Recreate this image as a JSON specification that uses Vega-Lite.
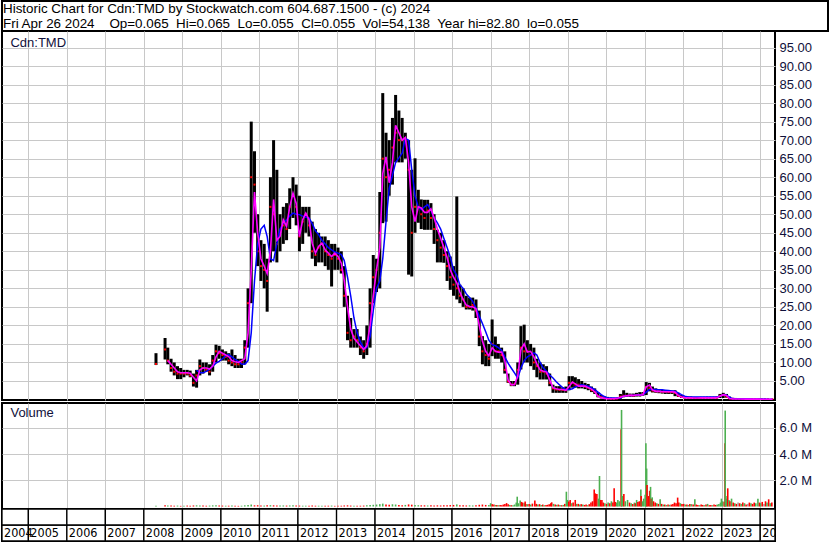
{
"$schema": "https://vega.github.io/schema/vega-lite/v6.json",
"padding": 0,
"autosize": {"type": "pad"},
"background": "white",
"config": {
  "font": "Liberation Sans",
  "view": {"stroke": "black", "strokeWidth": 2},
  "axis": {"labelFont": "Liberation Sans", "labelFontSize": 13, "labelColor": "#10103a", "gridColor": "#c8c8c8", "gridOpacity": 1, "gridWidth": 1, "ticks": false, "domain": false, "labelOverlap": false}
},
"datasets": {
  "hdr": [
    {"line": 1, "text": "Historic Chart for Cdn:TMD by Stockwatch.com 604.687.1500 - (c) 2024"},
    {"line": 2, "text": "Fri Apr 26 2024\u00a0 \u00a0 Op=0.065\u00a0 Hi=0.065\u00a0 Lo=0.055\u00a0 Cl=0.055\u00a0 Vol=54,138\u00a0 Year hi=82.80\u00a0 lo=0.055"}
  ],
  "px": [
    {"d":"2008-04-25","h":12.5,"l":9.3,"c":9.6},
    {"d":"2008-07-20","h":16.6,"l":10.8,"c":13.5},
    {"d":"2008-08-15","h":14,"l":9.5,"c":10.5,"m1":10.5},
    {"d":"2008-09-15","h":11,"l":7.5,"c":8.5,"m1":9.5},
    {"d":"2008-10-15","h":10,"l":6.5,"c":7.5,"m1":8.5},
    {"d":"2008-11-15","h":9,"l":5.5,"c":7,"m1":7.5},
    {"d":"2008-12-15","h":8.5,"l":5.5,"c":7,"m1":7.2},
    {"d":"2009-01-15","h":8,"l":6,"c":7,"m1":7.2},
    {"d":"2009-02-15","h":8,"l":6.5,"c":7,"m1":7.2},
    {"d":"2009-03-15","h":7.8,"l":6,"c":6.5,"m1":7.1},
    {"d":"2009-04-15","h":7,"l":3.5,"c":4.5,"m1":6},
    {"d":"2009-05-15","h":8,"l":3.2,"c":6.5,"m1":5,"m2":7.9},
    {"d":"2009-06-15","h":10.8,"l":6.5,"c":9,"m1":8,"m2":7.2},
    {"d":"2009-07-15","h":10,"l":7,"c":8.5,"m1":8.5,"m2":7.2},
    {"d":"2009-08-15","h":10,"l":7.5,"c":8,"m1":8.5,"m2":7.6},
    {"d":"2009-09-15","h":9.5,"l":6.5,"c":7.5,"m1":8.2,"m2":8.2},
    {"d":"2009-10-15","h":12,"l":7.5,"c":10.5,"m1":9,"m2":9},
    {"d":"2009-11-15","h":14.8,"l":10,"c":13,"m1":11.5,"m2":9.8},
    {"d":"2009-12-15","h":14.5,"l":11,"c":12.5,"m1":13,"m2":10.3},
    {"d":"2010-01-15","h":13.5,"l":10.5,"c":12,"m1":12.5,"m2":11},
    {"d":"2010-02-15","h":13,"l":10.5,"c":11.5,"m1":12,"m2":11.8},
    {"d":"2010-03-15","h":12.5,"l":9.5,"c":10.5,"m1":11.6,"m2":12.1},
    {"d":"2010-04-15","h":13.5,"l":9,"c":10,"m1":10.5,"m2":11.5},
    {"d":"2010-05-15","h":12,"l":8.5,"c":9.5,"m1":10.2,"m2":10.8},
    {"d":"2010-06-15","h":11,"l":8.5,"c":9.5,"m1":10,"m2":10.3},
    {"d":"2010-07-15","h":11,"l":8.5,"c":10,"m1":10.5,"m2":9.6},
    {"d":"2010-08-15","h":16,"l":9.5,"c":14,"m1":11,"m2":9.5},
    {"d":"2010-09-15","h":30,"l":14,"c":26,"m1":18,"m2":10.5},
    {"d":"2010-10-15","h":75,"l":26,"c":60,"m1":35,"m2":18},
    {"d":"2010-11-15","h":67,"l":45,"c":58,"m1":56,"m2":32},
    {"d":"2010-12-15","h":50,"l":36,"c":40,"m1":45,"m2":42},
    {"d":"2011-01-15","h":43,"l":32,"c":36,"m1":38,"m2":46},
    {"d":"2011-02-15","h":42,"l":30,"c":35,"m1":36,"m2":47},
    {"d":"2011-03-15","h":38,"l":23.7,"c":32,"m1":34,"m2":44},
    {"d":"2011-04-15","h":60,"l":37,"c":52,"m1":40,"m2":38},
    {"d":"2011-05-15","h":70,"l":40,"c":50,"m1":54,"m2":37.5},
    {"d":"2011-06-15","h":62,"l":37,"c":42,"m1":43,"m2":42},
    {"d":"2011-07-15","h":50,"l":40,"c":45,"m1":44,"m2":46},
    {"d":"2011-08-15","h":52,"l":42,"c":47,"m1":48.5,"m2":47.6},
    {"d":"2011-09-15","h":53,"l":43,"c":46,"m1":46.7,"m2":48.5},
    {"d":"2011-10-15","h":57,"l":46,"c":52,"m1":52,"m2":49.5},
    {"d":"2011-11-15","h":60,"l":49,"c":55,"m1":55.7,"m2":50.3},
    {"d":"2011-12-15","h":58,"l":47,"c":52,"m1":53,"m2":50},
    {"d":"2012-01-15","h":55,"l":40,"c":44,"m1":44,"m2":49.9},
    {"d":"2012-02-15","h":52,"l":42,"c":48,"m1":48.5,"m2":49.5},
    {"d":"2012-03-15","h":52,"l":45,"c":50,"m1":50.3,"m2":49.2},
    {"d":"2012-04-15","h":52,"l":44,"c":47,"m1":48.5,"m2":49},
    {"d":"2012-05-15","h":48,"l":38,"c":40,"m1":42.2,"m2":47.5},
    {"d":"2012-06-15","h":46,"l":36,"c":39,"m1":39.5,"m2":45.5},
    {"d":"2012-07-15","h":45,"l":37,"c":41,"m1":41.3,"m2":44.5},
    {"d":"2012-08-15","h":44,"l":37,"c":42,"m1":42.2,"m2":43},
    {"d":"2012-09-15","h":44,"l":36,"c":40,"m1":40.4,"m2":42},
    {"d":"2012-10-15","h":43,"l":35,"c":39,"m1":39.5,"m2":41},
    {"d":"2012-11-15","h":42,"l":30.5,"c":38,"m1":38.6,"m2":40.4},
    {"d":"2012-12-15","h":42,"l":35,"c":39,"m1":39.5,"m2":39.8},
    {"d":"2013-01-15","h":41,"l":35,"c":38,"m1":38.6,"m2":39.5},
    {"d":"2013-02-15","h":40,"l":34,"c":35,"m1":36.8,"m2":39.1},
    {"d":"2013-03-15","h":36,"l":25,"c":28,"m1":32,"m2":37.5},
    {"d":"2013-04-15","h":28,"l":16,"c":18,"m1":25,"m2":33},
    {"d":"2013-05-15","h":22,"l":14,"c":16,"m1":19,"m2":28},
    {"d":"2013-06-15","h":19,"l":14,"c":17,"m1":16.5,"m2":22},
    {"d":"2013-07-15","h":19,"l":14,"c":16,"m1":15.5,"m2":18},
    {"d":"2013-08-15","h":17,"l":12,"c":14,"m1":14.5,"m2":15.5},
    {"d":"2013-09-15","h":16,"l":11,"c":13,"m1":13.5,"m2":14},
    {"d":"2013-10-15","h":20,"l":12,"c":15,"m1":14.5,"m2":14},
    {"d":"2013-11-15","h":30,"l":14,"c":26,"m1":20,"m2":17},
    {"d":"2013-12-15","h":39,"l":26,"c":33,"m1":28,"m2":24},
    {"d":"2014-01-15","h":38,"l":29,"c":35,"m1":35,"m2":30},
    {"d":"2014-02-15","h":56,"l":30,"c":45,"m1":41,"m2":32},
    {"d":"2014-03-15","h":82.7,"l":47.6,"c":65,"m1":61,"m2":38},
    {"d":"2014-04-15","h":72,"l":48,"c":60,"m1":65.5,"m2":48},
    {"d":"2014-05-15","h":70,"l":55,"c":62,"m1":58.5,"m2":57},
    {"d":"2014-06-15","h":76,"l":58,"c":68,"m1":64,"m2":60.5},
    {"d":"2014-07-15","h":82.2,"l":64,"c":72,"m1":74,"m2":64},
    {"d":"2014-08-15","h":78,"l":64,"c":70,"m1":72,"m2":65.2},
    {"d":"2014-09-15","h":76,"l":64,"c":70,"m1":70,"m2":66.5},
    {"d":"2014-10-15","h":72,"l":65,"c":70,"m1":70.7,"m2":70.5},
    {"d":"2014-11-15","h":70,"l":33.7,"c":62,"m1":64,"m2":70},
    {"d":"2014-12-15","h":62,"l":33.2,"c":45,"m1":52,"m2":62},
    {"d":"2015-01-15","h":65.1,"l":45,"c":52,"m1":48,"m2":55},
    {"d":"2015-02-15","h":56.6,"l":47.7,"c":52,"m1":52,"m2":52},
    {"d":"2015-03-15","h":54,"l":46,"c":50,"m1":51.7,"m2":51.2},
    {"d":"2015-04-15","h":53.9,"l":45.8,"c":49,"m1":50.5,"m2":52},
    {"d":"2015-05-15","h":53.9,"l":45.8,"c":51,"m1":50.5,"m2":52.6},
    {"d":"2015-06-15","h":53,"l":45.8,"c":49,"m1":51.5,"m2":51},
    {"d":"2015-07-15","h":50,"l":42,"c":46,"m1":49,"m2":49},
    {"d":"2015-08-15","h":45.8,"l":37,"c":43,"m1":46,"m2":47.7},
    {"d":"2015-09-15","h":45,"l":37,"c":41,"m1":43.5,"m2":46},
    {"d":"2015-10-15","h":43,"l":36.9,"c":39,"m1":41,"m2":43.5},
    {"d":"2015-11-15","h":40,"l":32,"c":36,"m1":38.3,"m2":41},
    {"d":"2015-12-15","h":38.6,"l":29.6,"c":33,"m1":35,"m2":38.5},
    {"d":"2016-01-15","h":36,"l":28,"c":31,"m1":33,"m2":35},
    {"d":"2016-02-15","h":54.8,"l":27,"c":30,"m1":31.5,"m2":33.5},
    {"d":"2016-03-15","h":31,"l":26,"c":28,"m1":29,"m2":31},
    {"d":"2016-04-15","h":30,"l":25,"c":27,"m1":27,"m2":30},
    {"d":"2016-05-15","h":28,"l":24.3,"c":25,"m1":25.5,"m2":28.5},
    {"d":"2016-06-15","h":27.5,"l":24.3,"c":25,"m1":25.1,"m2":27.5},
    {"d":"2016-07-15","h":27.5,"l":24,"c":25.5,"m1":25,"m2":26.5},
    {"d":"2016-08-15","h":27,"l":22,"c":24,"m1":24.5,"m2":24.7},
    {"d":"2016-09-15","h":24,"l":14.4,"c":17,"m1":20,"m2":22.5},
    {"d":"2016-10-15","h":17.1,"l":9.5,"c":13,"m1":15.8,"m2":20.5},
    {"d":"2016-11-15","h":16,"l":9,"c":12,"m1":13,"m2":18.3},
    {"d":"2016-12-15","h":15,"l":9,"c":11,"m1":11.8,"m2":16},
    {"d":"2017-01-15","h":21.6,"l":11.7,"c":15,"m1":14,"m2":14.8},
    {"d":"2017-02-15","h":17,"l":11,"c":13,"m1":13,"m2":14.5},
    {"d":"2017-03-15","h":15,"l":11,"c":13,"m1":12.8,"m2":14},
    {"d":"2017-04-15","h":14,"l":10,"c":12,"m1":12.8,"m2":13.3},
    {"d":"2017-05-15","h":13,"l":7,"c":8,"m1":10.5,"m2":11.5},
    {"d":"2017-06-15","h":7,"l":4.5,"c":4.9,"m1":5.3,"m2":9.8},
    {"d":"2017-07-15","h":5,"l":3.6,"c":4,"m1":4,"m2":8.5},
    {"d":"2017-08-15","h":5,"l":3.6,"c":4.2,"m1":4,"m2":7.2},
    {"d":"2017-09-15","h":10,"l":4,"c":8,"m1":6.3,"m2":5.8},
    {"d":"2017-10-15","h":19.8,"l":8.1,"c":14,"m1":13.5,"m2":8.5},
    {"d":"2017-11-15","h":20.2,"l":10,"c":13,"m1":15,"m2":10.5},
    {"d":"2017-12-15","h":16,"l":10,"c":13,"m1":12.8,"m2":11.5},
    {"d":"2018-01-15","h":15,"l":9,"c":12,"m1":13,"m2":12},
    {"d":"2018-02-15","h":14,"l":8,"c":10,"m1":11.5,"m2":12.6},
    {"d":"2018-03-15","h":11,"l":6,"c":9,"m1":9.6,"m2":12},
    {"d":"2018-04-15","h":10,"l":5.4,"c":7.5,"m1":8,"m2":10},
    {"d":"2018-05-15","h":9.5,"l":5.4,"c":7.5,"m1":7.6,"m2":8.5},
    {"d":"2018-06-15","h":9,"l":5.4,"c":7,"m1":7.4,"m2":7.6},
    {"d":"2018-07-15","h":7,"l":3.6,"c":4.5,"m1":5.3,"m2":6.6},
    {"d":"2018-08-15","h":4,"l":1.8,"c":3,"m1":3.2,"m2":5.8},
    {"d":"2018-09-15","h":3.6,"l":1.8,"c":2.7,"m1":2.9,"m2":4.8},
    {"d":"2018-10-15","h":3.6,"l":1.8,"c":2.6,"m1":2.7,"m2":4},
    {"d":"2018-11-15","h":3.3,"l":1.8,"c":2.6,"m1":2.7,"m2":3.2},
    {"d":"2018-12-15","h":3.5,"l":1.8,"c":2.5,"m1":2.5,"m2":2.7},
    {"d":"2019-01-15","h":6.3,"l":2.5,"c":4.5,"m1":3.5,"m2":2.7},
    {"d":"2019-02-15","h":6.3,"l":3.2,"c":4.5,"m1":4.7,"m2":2.9},
    {"d":"2019-03-15","h":6,"l":3.2,"c":4,"m1":4.2,"m2":3.4},
    {"d":"2019-04-15","h":5.5,"l":3,"c":4,"m1":3.6,"m2":3.8},
    {"d":"2019-05-15","h":5,"l":3,"c":3.7,"m1":3.6,"m2":4},
    {"d":"2019-06-15","h":4.5,"l":2.8,"c":3.5,"m1":3.6,"m2":3.8},
    {"d":"2019-07-15","h":4.2,"l":2.5,"c":3.2,"m1":3.2,"m2":3.6},
    {"d":"2019-08-15","h":3.5,"l":2,"c":2.5,"m1":2.8,"m2":3.2},
    {"d":"2019-09-15","h":3,"l":1.5,"c":2,"m1":2.1,"m2":2.7},
    {"d":"2019-10-15","h":2,"l":0.6,"c":0.9,"m1":0.9,"m2":2},
    {"d":"2019-11-15","h":1.2,"l":0.3,"c":0.6,"m1":0.5,"m2":1.3},
    {"d":"2019-12-15","h":0.8,"l":0.2,"c":0.4,"m1":0.3,"m2":0.8},
    {"d":"2020-01-15","h":0.7,"l":0.15,"c":0.3,"m1":0.2,"m2":0.4},
    {"d":"2020-02-15","h":0.5,"l":0.1,"c":0.2,"m1":0.2,"m2":0.4},
    {"d":"2020-03-15","h":0.4,"l":0.1,"c":0.2,"m1":0.2,"m2":0.4},
    {"d":"2020-04-15","h":0.5,"l":0.1,"c":0.3,"m1":0.3,"m2":0.4},
    {"d":"2020-05-15","h":1.5,"l":0.2,"c":0.8,"m1":0.6,"m2":0.4},
    {"d":"2020-06-15","h":2.5,"l":0.6,"c":1,"m1":0.9,"m2":0.9},
    {"d":"2020-07-15","h":1.8,"l":0.7,"c":1,"m1":1,"m2":1},
    {"d":"2020-08-15","h":1.6,"l":0.7,"c":1.1,"m1":1.1,"m2":1.1},
    {"d":"2020-09-15","h":1.6,"l":0.7,"c":1,"m1":1.1,"m2":1.1},
    {"d":"2020-10-15","h":1.8,"l":0.8,"c":1.2,"m1":1.2,"m2":1.2},
    {"d":"2020-11-15","h":2,"l":0.8,"c":1.2,"m1":1.2,"m2":1.3},
    {"d":"2020-12-15","h":2,"l":1,"c":1.4,"m1":1.3,"m2":1.3},
    {"d":"2021-01-15","h":4.7,"l":1.2,"c":3.4,"m1":3.4,"m2":2},
    {"d":"2021-02-15","h":4.5,"l":2.2,"c":3,"m1":3.9,"m2":2.7},
    {"d":"2021-03-15","h":3.5,"l":1.9,"c":2.4,"m1":2.6,"m2":2.7},
    {"d":"2021-04-15","h":3,"l":1.8,"c":2.2,"m1":2.2,"m2":2.7},
    {"d":"2021-05-15","h":2.8,"l":1.7,"c":2.2,"m1":2.2,"m2":2.6},
    {"d":"2021-06-15","h":2.6,"l":1.6,"c":2.1,"m1":2.1,"m2":2.6},
    {"d":"2021-07-15","h":2.5,"l":1.5,"c":2.1,"m1":2.1,"m2":2.5},
    {"d":"2021-08-15","h":2.5,"l":1.5,"c":2,"m1":2.1,"m2":2.4},
    {"d":"2021-09-15","h":2.4,"l":1.5,"c":2,"m1":2.1,"m2":2.3},
    {"d":"2021-10-15","h":2.5,"l":0.9,"c":1.8,"m1":2,"m2":2.2},
    {"d":"2021-11-15","h":1.8,"l":0.7,"c":1,"m1":1.1,"m2":1.8},
    {"d":"2021-12-15","h":1.2,"l":0.4,"c":0.7,"m1":0.7,"m2":1.3},
    {"d":"2022-01-15","h":0.9,"l":0.3,"c":0.5,"m1":0.5,"m2":0.9},
    {"d":"2022-02-15","h":0.8,"l":0.3,"c":0.5,"m1":0.45,"m2":0.7},
    {"d":"2022-03-15","h":0.8,"l":0.3,"c":0.45,"m1":0.45,"m2":0.7},
    {"d":"2022-04-15","h":0.7,"l":0.25,"c":0.4,"m1":0.4,"m2":0.7},
    {"d":"2022-05-15","h":0.7,"l":0.25,"c":0.4,"m1":0.4,"m2":0.7},
    {"d":"2022-06-15","h":0.7,"l":0.25,"c":0.45,"m1":0.45,"m2":0.7},
    {"d":"2022-07-15","h":0.7,"l":0.3,"c":0.45,"m1":0.45,"m2":0.7},
    {"d":"2022-08-15","h":0.7,"l":0.3,"c":0.5,"m1":0.45,"m2":0.7},
    {"d":"2022-09-15","h":0.7,"l":0.3,"c":0.5,"m1":0.45,"m2":0.7},
    {"d":"2022-10-15","h":0.7,"l":0.3,"c":0.5,"m1":0.45,"m2":0.7},
    {"d":"2022-11-15","h":0.8,"l":0.3,"c":0.5,"m1":0.5,"m2":0.7},
    {"d":"2022-12-15","h":1.5,"l":0.4,"c":1,"m1":0.9,"m2":0.9},
    {"d":"2023-01-15","h":1.8,"l":0.4,"c":1.2,"m1":1.3,"m2":1.3},
    {"d":"2023-02-15","h":1.5,"l":0.5,"c":0.8,"m1":1.1,"m2":1.2},
    {"d":"2023-03-15","h":0.8,"l":0.15,"c":0.3,"m1":0.25,"m2":0.6},
    {"d":"2023-04-15","h":0.4,"l":0.1,"c":0.2,"m1":0.15,"m2":0.25},
    {"d":"2023-05-15","h":0.3,"l":0.08,"c":0.15,"m1":0.12,"m2":0.2},
    {"d":"2023-06-15","h":0.3,"l":0.08,"c":0.14,"m1":0.12,"m2":0.2},
    {"d":"2023-07-15","h":0.25,"l":0.08,"c":0.13,"m1":0.12,"m2":0.2},
    {"d":"2023-08-15","h":0.25,"l":0.07,"c":0.12,"m1":0.11,"m2":0.18},
    {"d":"2023-09-15","h":0.22,"l":0.07,"c":0.11,"m1":0.1,"m2":0.17},
    {"d":"2023-10-15","h":0.2,"l":0.06,"c":0.1,"m1":0.1,"m2":0.15},
    {"d":"2023-11-15","h":0.2,"l":0.06,"c":0.1,"m1":0.09,"m2":0.14},
    {"d":"2023-12-15","h":0.2,"l":0.06,"c":0.09,"m1":0.09,"m2":0.13},
    {"d":"2024-01-15","h":0.15,"l":0.05,"c":0.08,"m1":0.08,"m2":0.12},
    {"d":"2024-02-15","h":0.15,"l":0.05,"c":0.08,"m1":0.08,"m2":0.11},
    {"d":"2024-03-15","h":0.12,"l":0.05,"c":0.07,"m1":0.07,"m2":0.1},
    {"d":"2024-04-26","h":0.065,"l":0.055,"c":0.055,"m1":0.07,"m2":0.09}
  ],
  "vol": [
    {"d":"2008-04-25","v":60000,"s":"up"},{"d":"2008-07-20","v":90000,"s":"dn"},{"d":"2008-08-15","v":70000,"s":"up"},{"d":"2008-09-15","v":80000,"s":"dn"},{"d":"2008-10-15","v":60000,"s":"dn"},{"d":"2008-11-15","v":70000,"s":"up"},{"d":"2008-12-15","v":50000,"s":"dn"},
    {"d":"2009-01-15","v":60000,"s":"up"},{"d":"2009-02-15","v":70000,"s":"dn"},{"d":"2009-03-15","v":60000,"s":"dn"},{"d":"2009-04-15","v":80000,"s":"dn"},{"d":"2009-05-15","v":90000,"s":"up"},{"d":"2009-06-15","v":80000,"s":"up"},{"d":"2009-07-15","v":70000,"s":"dn"},{"d":"2009-08-15","v":60000,"s":"dn"},{"d":"2009-09-15","v":70000,"s":"up"},{"d":"2009-10-15","v":90000,"s":"up"},{"d":"2009-11-15","v":100000,"s":"up"},{"d":"2009-12-15","v":80000,"s":"dn"},
    {"d":"2010-01-15","v":70000,"s":"dn"},{"d":"2010-02-15","v":60000,"s":"up"},{"d":"2010-03-15","v":60000,"s":"dn"},{"d":"2010-04-15","v":70000,"s":"up"},{"d":"2010-05-15","v":60000,"s":"dn"},{"d":"2010-06-15","v":50000,"s":"dn"},{"d":"2010-07-15","v":60000,"s":"up"},{"d":"2010-08-15","v":90000,"s":"up"},{"d":"2010-09-15","v":120000,"s":"up"},{"d":"2010-10-15","v":150000,"s":"up"},{"d":"2010-11-15","v":90000,"s":"dn"},{"d":"2010-12-15","v":100000,"s":"dn"},
    {"d":"2011-01-15","v":80000,"s":"dn"},{"d":"2011-02-15","v":70000,"s":"up"},{"d":"2011-03-15","v":90000,"s":"dn"},{"d":"2011-04-15","v":100000,"s":"up"},{"d":"2011-05-15","v":90000,"s":"dn"},{"d":"2011-06-15","v":80000,"s":"dn"},{"d":"2011-07-15","v":70000,"s":"up"},{"d":"2011-08-15","v":80000,"s":"up"},{"d":"2011-09-15","v":70000,"s":"dn"},{"d":"2011-10-15","v":80000,"s":"up"},{"d":"2011-11-15","v":90000,"s":"up"},{"d":"2011-12-15","v":70000,"s":"dn"},
    {"d":"2012-01-15","v":70000,"s":"dn"},{"d":"2012-02-15","v":60000,"s":"up"},{"d":"2012-03-15","v":60000,"s":"up"},{"d":"2012-04-15","v":60000,"s":"dn"},{"d":"2012-05-15","v":70000,"s":"dn"},{"d":"2012-06-15","v":60000,"s":"dn"},{"d":"2012-07-15","v":60000,"s":"up"},{"d":"2012-08-15","v":50000,"s":"up"},{"d":"2012-09-15","v":60000,"s":"dn"},{"d":"2012-10-15","v":60000,"s":"dn"},{"d":"2012-11-15","v":70000,"s":"up"},{"d":"2012-12-15","v":50000,"s":"dn"},
    {"d":"2013-01-15","v":60000,"s":"dn"},{"d":"2013-02-15","v":60000,"s":"dn"},{"d":"2013-03-15","v":80000,"s":"dn"},{"d":"2013-04-15","v":90000,"s":"dn"},{"d":"2013-05-15","v":70000,"s":"dn"},{"d":"2013-06-15","v":60000,"s":"up"},{"d":"2013-07-15","v":60000,"s":"dn"},{"d":"2013-08-15","v":60000,"s":"dn"},{"d":"2013-09-15","v":70000,"s":"dn"},{"d":"2013-10-15","v":90000,"s":"up"},{"d":"2013-11-15","v":120000,"s":"up"},{"d":"2013-12-15","v":130000,"s":"up"},
    {"d":"2014-01-15","v":150000,"s":"up"},{"d":"2014-02-15","v":180000,"s":"up"},{"d":"2014-03-15","v":220000,"s":"up"},{"d":"2014-04-15","v":160000,"s":"dn"},{"d":"2014-05-15","v":130000,"s":"dn"},{"d":"2014-06-15","v":170000,"s":"up"},{"d":"2014-07-15","v":150000,"s":"up"},{"d":"2014-08-15","v":110000,"s":"dn"},{"d":"2014-09-15","v":100000,"s":"dn"},{"d":"2014-10-15","v":120000,"s":"up"},{"d":"2014-11-15","v":160000,"s":"dn"},{"d":"2014-12-15","v":140000,"s":"dn"},
    {"d":"2015-01-15","v":120000,"s":"up"},{"d":"2015-02-15","v":100000,"s":"up"},{"d":"2015-03-15","v":90000,"s":"dn"},{"d":"2015-04-15","v":90000,"s":"dn"},{"d":"2015-05-15","v":80000,"s":"up"},{"d":"2015-06-15","v":90000,"s":"dn"},{"d":"2015-07-15","v":80000,"s":"dn"},{"d":"2015-08-15","v":90000,"s":"dn"},{"d":"2015-09-15","v":80000,"s":"dn"},{"d":"2015-10-15","v":90000,"s":"dn"},{"d":"2015-11-15","v":100000,"s":"dn"},{"d":"2015-12-15","v":110000,"s":"dn"},
    {"d":"2016-01-15","v":120000,"s":"dn"},{"d":"2016-02-15","v":160000,"s":"up"},{"d":"2016-03-15","v":100000,"s":"dn"},{"d":"2016-04-15","v":90000,"s":"dn"},{"d":"2016-05-15","v":80000,"s":"dn"},{"d":"2016-06-15","v":90000,"s":"up"},{"d":"2016-07-15","v":80000,"s":"up"},{"d":"2016-08-15","v":90000,"s":"dn"},{"d":"2016-09-15","v":130000,"s":"dn"},{"d":"2016-10-15","v":150000,"s":"dn"},{"d":"2016-11-15","v":120000,"s":"dn"},{"d":"2016-12-15","v":110000,"s":"up"},
    {"d":"2017-01-01","v":250000,"s":"up"},{"d":"2017-01-16","v":180000,"s":"dn"},{"d":"2017-02-01","v":150000,"s":"dn"},{"d":"2017-02-16","v":120000,"s":"up"},{"d":"2017-03-01","v":110000,"s":"dn"},{"d":"2017-03-16","v":100000,"s":"up"},{"d":"2017-04-01","v":120000,"s":"dn"},{"d":"2017-04-16","v":100000,"s":"dn"},{"d":"2017-05-01","v":150000,"s":"dn"},{"d":"2017-05-16","v":200000,"s":"dn"},{"d":"2017-06-01","v":260000,"s":"dn"},{"d":"2017-06-16","v":180000,"s":"dn"},{"d":"2017-07-01","v":120000,"s":"up"},{"d":"2017-07-16","v":100000,"s":"dn"},{"d":"2017-08-01","v":90000,"s":"up"},{"d":"2017-08-16","v":150000,"s":"up"},{"d":"2017-09-01","v":300000,"s":"up"},{"d":"2017-09-10","v":750000,"s":"up"},{"d":"2017-09-20","v":250000,"s":"up"},{"d":"2017-10-08","v":450000,"s":"up"},{"d":"2017-10-20","v":350000,"s":"dn"},{"d":"2017-11-01","v":300000,"s":"dn"},{"d":"2017-11-16","v":250000,"s":"up"},{"d":"2017-11-24","v":380000,"s":"dn"},{"d":"2017-12-01","v":200000,"s":"dn"},{"d":"2017-12-16","v":180000,"s":"up"},
    {"d":"2018-01-01","v":200000,"s":"dn"},{"d":"2018-01-16","v":150000,"s":"up"},{"d":"2018-02-01","v":220000,"s":"dn"},{"d":"2018-02-24","v":450000,"s":"dn"},{"d":"2018-03-10","v":200000,"s":"dn"},{"d":"2018-03-25","v":150000,"s":"up"},{"d":"2018-04-10","v":180000,"s":"dn"},{"d":"2018-04-25","v":120000,"s":"up"},{"d":"2018-05-10","v":150000,"s":"dn"},{"d":"2018-05-25","v":100000,"s":"up"},{"d":"2018-06-10","v":120000,"s":"dn"},{"d":"2018-06-25","v":130000,"s":"dn"},{"d":"2018-07-10","v":180000,"s":"dn"},{"d":"2018-07-25","v":250000,"s":"dn"},{"d":"2018-08-03","v":320000,"s":"dn"},{"d":"2018-08-20","v":200000,"s":"up"},{"d":"2018-09-05","v":150000,"s":"dn"},{"d":"2018-09-20","v":130000,"s":"up"},{"d":"2018-10-05","v":150000,"s":"dn"},{"d":"2018-10-20","v":120000,"s":"up"},{"d":"2018-11-05","v":100000,"s":"dn"},{"d":"2018-11-20","v":120000,"s":"up"},{"d":"2018-12-05","v":200000,"s":"dn"},{"d":"2018-12-20","v":1130000,"s":"up"},
    {"d":"2019-01-01","v":500000,"s":"up"},{"d":"2019-01-12","v":380000,"s":"dn"},{"d":"2019-01-25","v":500000,"s":"dn"},{"d":"2019-02-08","v":250000,"s":"up"},{"d":"2019-02-22","v":300000,"s":"dn"},{"d":"2019-03-14","v":500000,"s":"dn"},{"d":"2019-03-28","v":200000,"s":"up"},{"d":"2019-04-12","v":200000,"s":"dn"},{"d":"2019-04-26","v":150000,"s":"up"},{"d":"2019-05-10","v":180000,"s":"dn"},{"d":"2019-05-25","v":150000,"s":"up"},{"d":"2019-06-10","v":120000,"s":"dn"},{"d":"2019-06-25","v":150000,"s":"dn"},{"d":"2019-07-10","v":100000,"s":"up"},{"d":"2019-07-25","v":180000,"s":"dn"},{"d":"2019-08-10","v":300000,"s":"dn"},{"d":"2019-08-25","v":400000,"s":"dn"},{"d":"2019-09-10","v":1300000,"s":"dn"},{"d":"2019-09-20","v":1000000,"s":"dn"},{"d":"2019-10-05","v":950000,"s":"dn"},{"d":"2019-10-20","v":600000,"s":"up"},{"d":"2019-10-30","v":2330000,"s":"up"},{"d":"2019-11-10","v":500000,"s":"dn"},{"d":"2019-11-22","v":500000,"s":"dn"},{"d":"2019-12-05","v":300000,"s":"dn"},{"d":"2019-12-20","v":250000,"s":"up"},
    {"d":"2020-01-05","v":200000,"s":"dn"},{"d":"2020-01-20","v":300000,"s":"up"},{"d":"2020-02-05","v":250000,"s":"dn"},{"d":"2020-02-20","v":400000,"s":"up"},{"d":"2020-03-05","v":300000,"s":"dn"},{"d":"2020-03-17","v":1390000,"s":"dn"},{"d":"2020-03-28","v":350000,"s":"dn"},{"d":"2020-04-10","v":300000,"s":"up"},{"d":"2020-04-21","v":500000,"s":"up"},{"d":"2020-05-05","v":400000,"s":"up"},{"d":"2020-05-22","v":5900000,"s":"dn"},{"d":"2020-05-26","v":7380000,"s":"up"},{"d":"2020-06-05","v":800000,"s":"up"},{"d":"2020-06-17","v":950000,"s":"dn"},{"d":"2020-07-01","v":400000,"s":"up"},{"d":"2020-07-22","v":500000,"s":"up"},{"d":"2020-08-10","v":300000,"s":"dn"},{"d":"2020-08-25","v":250000,"s":"up"},{"d":"2020-09-10","v":200000,"s":"dn"},{"d":"2020-09-25","v":300000,"s":"up"},{"d":"2020-10-05","v":250000,"s":"dn"},{"d":"2020-10-16","v":500000,"s":"up"},{"d":"2020-10-28","v":350000,"s":"dn"},{"d":"2020-11-10","v":400000,"s":"dn"},{"d":"2020-11-25","v":1300000,"s":"up"},{"d":"2020-11-28","v":800000,"s":"dn"},{"d":"2020-12-10","v":400000,"s":"up"},{"d":"2020-12-22","v":600000,"s":"up"},
    {"d":"2021-01-05","v":900000,"s":"up"},{"d":"2021-01-12","v":4830000,"s":"up"},{"d":"2021-01-19","v":2900000,"s":"up"},{"d":"2021-01-23","v":1640000,"s":"dn"},{"d":"2021-02-05","v":800000,"s":"dn"},{"d":"2021-02-17","v":1200000,"s":"dn"},{"d":"2021-02-25","v":1500000,"s":"up"},{"d":"2021-03-05","v":600000,"s":"dn"},{"d":"2021-03-13","v":700000,"s":"up"},{"d":"2021-03-25","v":400000,"s":"dn"},{"d":"2021-04-10","v":300000,"s":"dn"},{"d":"2021-04-25","v":250000,"s":"up"},{"d":"2021-05-10","v":200000,"s":"dn"},{"d":"2021-05-27","v":550000,"s":"up"},{"d":"2021-06-10","v":200000,"s":"dn"},{"d":"2021-06-25","v":150000,"s":"up"},{"d":"2021-07-10","v":150000,"s":"dn"},{"d":"2021-07-25","v":120000,"s":"up"},{"d":"2021-08-10","v":150000,"s":"dn"},{"d":"2021-08-25","v":130000,"s":"up"},{"d":"2021-09-10","v":150000,"s":"dn"},{"d":"2021-09-25","v":200000,"s":"dn"},{"d":"2021-10-10","v":300000,"s":"dn"},{"d":"2021-10-25","v":250000,"s":"dn"},{"d":"2021-11-09","v":680000,"s":"dn"},{"d":"2021-11-20","v":300000,"s":"dn"},{"d":"2021-12-05","v":250000,"s":"up"},{"d":"2021-12-20","v":200000,"s":"dn"},
    {"d":"2022-01-05","v":200000,"s":"dn"},{"d":"2022-01-20","v":150000,"s":"up"},{"d":"2022-02-05","v":150000,"s":"dn"},{"d":"2022-02-20","v":120000,"s":"up"},{"d":"2022-03-05","v":200000,"s":"dn"},{"d":"2022-03-20","v":180000,"s":"up"},{"d":"2022-04-05","v":150000,"s":"dn"},{"d":"2022-04-21","v":550000,"s":"up"},{"d":"2022-05-05","v":150000,"s":"dn"},{"d":"2022-05-20","v":120000,"s":"dn"},{"d":"2022-06-05","v":100000,"s":"up"},{"d":"2022-06-20","v":150000,"s":"dn"},{"d":"2022-07-05","v":120000,"s":"dn"},{"d":"2022-07-20","v":100000,"s":"up"},{"d":"2022-08-05","v":150000,"s":"dn"},{"d":"2022-08-20","v":200000,"s":"up"},{"d":"2022-09-05","v":100000,"s":"dn"},{"d":"2022-09-20","v":120000,"s":"dn"},{"d":"2022-10-05","v":100000,"s":"up"},{"d":"2022-10-20","v":150000,"s":"dn"},{"d":"2022-11-05","v":120000,"s":"dn"},{"d":"2022-11-20","v":150000,"s":"up"},{"d":"2022-12-05","v":200000,"s":"up"},{"d":"2022-12-20","v":300000,"s":"up"},{"d":"2022-12-29","v":600000,"s":"up"},
    {"d":"2023-01-10","v":400000,"s":"up"},{"d":"2023-01-25","v":350000,"s":"dn"},{"d":"2023-02-01","v":4830000,"s":"dn"},{"d":"2023-02-03","v":7330000,"s":"up"},{"d":"2023-02-10","v":800000,"s":"up"},{"d":"2023-02-18","v":600000,"s":"up"},{"d":"2023-02-27","v":1390000,"s":"dn"},{"d":"2023-03-10","v":500000,"s":"up"},{"d":"2023-03-20","v":400000,"s":"dn"},{"d":"2023-04-04","v":600000,"s":"up"},{"d":"2023-04-20","v":300000,"s":"dn"},{"d":"2023-05-05","v":250000,"s":"up"},{"d":"2023-05-20","v":200000,"s":"dn"},{"d":"2023-06-05","v":300000,"s":"eq"},{"d":"2023-06-20","v":250000,"s":"dn"},{"d":"2023-07-05","v":200000,"s":"up"},{"d":"2023-07-20","v":300000,"s":"dn"},{"d":"2023-08-05","v":250000,"s":"up"},{"d":"2023-08-20","v":150000,"s":"dn"},{"d":"2023-09-05","v":200000,"s":"eq"},{"d":"2023-09-20","v":300000,"s":"dn"},{"d":"2023-10-05","v":250000,"s":"up"},{"d":"2023-10-20","v":200000,"s":"dn"},{"d":"2023-11-05","v":300000,"s":"dn"},{"d":"2023-11-20","v":250000,"s":"up"},{"d":"2023-12-10","v":600000,"s":"up"},{"d":"2023-12-25","v":300000,"s":"dn"},
    {"d":"2024-01-05","v":250000,"s":"up"},{"d":"2024-01-20","v":350000,"s":"dn"},{"d":"2024-02-05","v":200000,"s":"eq"},{"d":"2024-02-20","v":400000,"s":"dn"},{"d":"2024-03-05","v":300000,"s":"up"},{"d":"2024-03-21","v":550000,"s":"dn"},{"d":"2024-04-05","v":250000,"s":"up"},{"d":"2024-04-20","v":300000,"s":"dn"}
  ],
  "yrs": [
    {"y":"2004","s":"2004-04-26","e":"2005-01-01"},{"y":"2005","s":"2005-01-01","e":"2006-01-01"},{"y":"2006","s":"2006-01-01","e":"2007-01-01"},{"y":"2007","s":"2007-01-01","e":"2008-01-01"},{"y":"2008","s":"2008-01-01","e":"2009-01-01"},{"y":"2009","s":"2009-01-01","e":"2010-01-01"},{"y":"2010","s":"2010-01-01","e":"2011-01-01"},{"y":"2011","s":"2011-01-01","e":"2012-01-01"},{"y":"2012","s":"2012-01-01","e":"2013-01-01"},{"y":"2013","s":"2013-01-01","e":"2014-01-01"},{"y":"2014","s":"2014-01-01","e":"2015-01-01"},{"y":"2015","s":"2015-01-01","e":"2016-01-01"},{"y":"2016","s":"2016-01-01","e":"2017-01-01"},{"y":"2017","s":"2017-01-01","e":"2018-01-01"},{"y":"2018","s":"2018-01-01","e":"2019-01-01"},{"y":"2019","s":"2019-01-01","e":"2020-01-01"},{"y":"2020","s":"2020-01-01","e":"2021-01-01"},{"y":"2021","s":"2021-01-01","e":"2022-01-01"},{"y":"2022","s":"2022-01-01","e":"2023-01-01"},{"y":"2023","s":"2023-01-01","e":"2024-01-01"},{"y":"2024","s":"2024-01-01","e":"2024-05-20"}
  ]
},
"spacing": 1,
"bounds": "full",
"vconcat": [
  {
    "spacing": 0,
    "bounds": "flush",
    "vconcat": [
      {
        "width": 826, "height": 30,
        "data": {"name": "hdr"},
        "mark": {"type": "text", "align": "left", "baseline": "middle", "fontSize": 13.4, "dx": 1, "color": "black"},
        "encoding": {
          "x": {"datum": 0, "type": "quantitative", "scale": {"domain": [0, 1]}, "axis": null},
          "y": {"field": "line", "type": "ordinal", "scale": {"type": "point", "padding": 0.5}, "axis": null},
          "text": {"field": "text"}
        }
      },
      {
        "width": 773, "height": 369,
        "layer": [
          {
            "data": {"name": "px"},
            "mark": {"type": "rule", "color": "black", "strokeWidth": 3, "clip": true},
            "encoding": {
              "x": {"field": "d", "type": "temporal",
                    "scale": {"domain": [{"year": 2004, "month": 4, "date": 26}, {"year": 2024, "month": 5, "date": 20}]},
                    "axis": {"orient": "bottom", "title": null, "labels": false, "grid": true, "tickCount": 40,
                             "values": [{"year":2005,"month":1,"date":1},{"year":2006,"month":1,"date":1},{"year":2007,"month":1,"date":1},{"year":2008,"month":1,"date":1},{"year":2009,"month":1,"date":1},{"year":2010,"month":1,"date":1},{"year":2011,"month":1,"date":1},{"year":2012,"month":1,"date":1},{"year":2013,"month":1,"date":1},{"year":2014,"month":1,"date":1},{"year":2015,"month":1,"date":1},{"year":2016,"month":1,"date":1},{"year":2017,"month":1,"date":1},{"year":2018,"month":1,"date":1},{"year":2019,"month":1,"date":1},{"year":2020,"month":1,"date":1},{"year":2021,"month":1,"date":1},{"year":2022,"month":1,"date":1},{"year":2023,"month":1,"date":1},{"year":2024,"month":1,"date":1}]}},
              "y": {"field": "l", "type": "quantitative",
                    "scale": {"domain": [-0.135, 99.46], "nice": false, "zero": false},
                    "axis": {"orient": "right", "title": null, "grid": true, "labelPadding": 4, "labelOverlap": false, "labelBound": false, "tickCount": 40,
                             "values": [5,10,15,20,25,30,35,40,45,50,55,60,65,70,75,80,85,90,95],
                             "labelExpr": "format(datum.value, '.2f')"}},
              "y2": {"field": "h"}
            }
          },
          {
            "data": {"name": "px"},
            "mark": {"type": "point", "shape": "square", "filled": true, "color": "#ff0000", "size": 4, "opacity": 1, "clip": true},
            "encoding": {
              "x": {"field": "d", "type": "temporal"},
              "y": {"field": "c", "type": "quantitative"}
            }
          },
          {
            "data": {"name": "px"},
            "mark": {"type": "line", "color": "#0000ff", "strokeWidth": 1.5, "clip": true},
            "encoding": {
              "x": {"field": "d", "type": "temporal"},
              "y": {"field": "m2", "type": "quantitative"}
            }
          },
          {
            "data": {"name": "px"},
            "mark": {"type": "line", "color": "#ff00ff", "strokeWidth": 1.6, "clip": true},
            "encoding": {
              "x": {"field": "d", "type": "temporal"},
              "y": {"field": "m1", "type": "quantitative"}
            }
          },
          {
            "data": {"values": [{"label": "Cdn:TMD"}]},
            "mark": {"type": "text", "align": "left", "baseline": "alphabetic", "fontSize": 13, "color": "#10103a"},
            "encoding": {
              "x": {"datum": {"year": 2004, "month": 7, "date": 15}, "type": "temporal"},
              "y": {"datum": 95.2, "type": "quantitative"},
              "text": {"field": "label"}
            }
          }
        ]
      }
    ]
  },
  {
    "spacing": 0,
    "bounds": "flush",
    "vconcat": [
      {
        "width": 773, "height": 106,
        "layer": [
          {
            "data": {"name": "vol"},
            "mark": {"type": "rule", "strokeWidth": 1.6, "clip": true},
            "encoding": {
              "x": {"field": "d", "type": "temporal",
                    "scale": {"domain": [{"year": 2004, "month": 4, "date": 26}, {"year": 2024, "month": 5, "date": 20}]},
                    "axis": {"orient": "bottom", "title": null, "labels": false, "grid": true, "tickCount": 40,
                             "values": [{"year":2005,"month":1,"date":1},{"year":2006,"month":1,"date":1},{"year":2007,"month":1,"date":1},{"year":2008,"month":1,"date":1},{"year":2009,"month":1,"date":1},{"year":2010,"month":1,"date":1},{"year":2011,"month":1,"date":1},{"year":2012,"month":1,"date":1},{"year":2013,"month":1,"date":1},{"year":2014,"month":1,"date":1},{"year":2015,"month":1,"date":1},{"year":2016,"month":1,"date":1},{"year":2017,"month":1,"date":1},{"year":2018,"month":1,"date":1},{"year":2019,"month":1,"date":1},{"year":2020,"month":1,"date":1},{"year":2021,"month":1,"date":1},{"year":2022,"month":1,"date":1},{"year":2023,"month":1,"date":1},{"year":2024,"month":1,"date":1}]}},
              "y": {"field": "v", "type": "quantitative",
                    "scale": {"domain": [-191000, 7910000], "nice": false, "zero": false},
                    "axis": {"orient": "right", "title": null, "grid": true, "labelPadding": 4, "labelOverlap": false, "tickCount": 10,
                             "values": [2000000, 4000000, 6000000],
                             "labelExpr": "format(datum.value / 1000000, '.1f') + ' M'"}},
              "y2": {"datum": 0},
              "color": {"field": "s", "type": "nominal", "legend": null,
                        "scale": {"domain": ["up", "dn", "eq"], "range": ["#4cb050", "#ff0000", "#a0a0a0"]}}
            }
          },
          {
            "data": {"values": [{"label": "Volume"}]},
            "mark": {"type": "text", "align": "left", "baseline": "alphabetic", "fontSize": 13, "color": "#10103a"},
            "encoding": {
              "x": {"datum": {"year": 2004, "month": 7, "date": 15}, "type": "temporal"},
              "y": {"datum": 6850000, "type": "quantitative"},
              "text": {"field": "label"}
            }
          }
        ]
      },
      {
        "width": 773, "height": 32,
        "data": {"name": "yrs"},
        "layer": [
          {
            "mark": {"type": "rect", "fill": "white", "stroke": "black", "strokeWidth": 1.3},
            "encoding": {
              "x": {"field": "s", "type": "temporal", "axis": null,
                    "scale": {"domain": [{"year": 2004, "month": 4, "date": 26}, {"year": 2024, "month": 5, "date": 20}]}},
              "x2": {"field": "e"},
              "y": {"datum": 0, "type": "quantitative", "scale": {"domain": [0, 2], "nice": false}, "axis": null},
              "y2": {"datum": 1}
            }
          },
          {
            "mark": {"type": "rect", "fill": "white", "stroke": "black", "strokeWidth": 1.3},
            "encoding": {
              "x": {"field": "s", "type": "temporal"},
              "x2": {"field": "e"},
              "y": {"datum": 1, "type": "quantitative"},
              "y2": {"datum": 2}
            }
          },
          {
            "mark": {"type": "text", "align": "left", "baseline": "middle", "dx": 2, "fontSize": 12.5, "font": "Liberation Sans Narrow, DejaVu Sans Condensed, Liberation Sans", "color": "black", "clip": true},
            "encoding": {
              "x": {"field": "s", "type": "temporal"},
              "y": {"datum": 0.47, "type": "quantitative"},
              "text": {"field": "y"}
            }
          }
        ]
      }
    ]
  }
]
}
